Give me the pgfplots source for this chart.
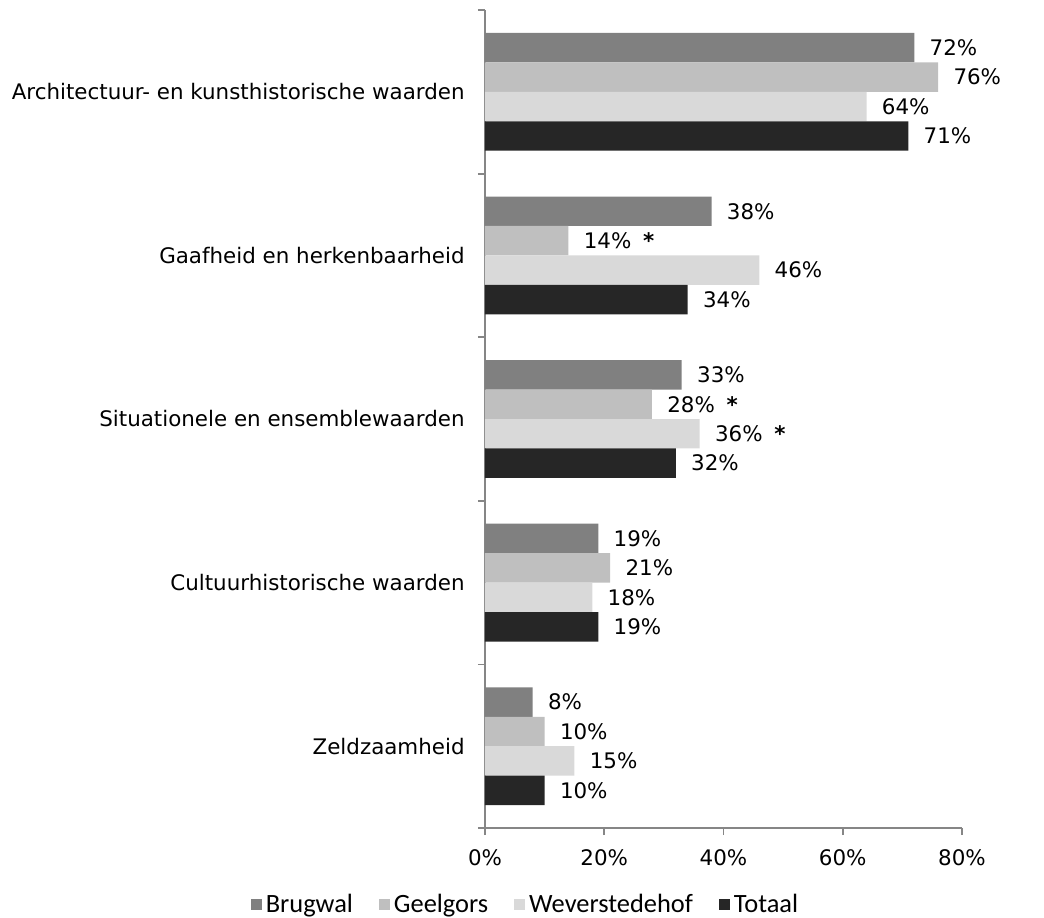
\documentclass[border=0pt]{standalone}
\usepackage{pgfplots}
\pgfplotsset{compat=1.18}
\usepackage{fontspec}
\setmainfont{DejaVu Sans}
\newfontfamily\legfont{Carlito}
\definecolor{cBrug}{HTML}{808080}
\definecolor{cGeel}{HTML}{BFBFBF}
\definecolor{cWever}{HTML}{D9D9D9}
\definecolor{cTot}{HTML}{262626}
\definecolor{cAxis}{HTML}{868686}
\newcommand\sig{\hspace{0.55em}\textbf{*}}
\begin{document}
\begin{tikzpicture}
\begin{axis}[
  name=ax,
  scale only axis,
  width=238.5pt, height=409pt,
  xbar, bar width=0.18,
  y dir=reverse,
  ymin=-0.5, ymax=4.5,
  xmin=0, xmax=80,
  axis x line*=bottom, axis y line*=left,
  axis line style={cAxis, line width=0.9pt},
  tick style={cAxis, line width=0.9pt},
  tick align=outside,
  major tick length=3.5pt,
  xtick={0,20,40,60,80},
  xticklabel={\pgfmathprintnumber{\tick}\%},
  /pgf/number format/assume math mode=true,
  x tick label style={font=\fontsize{10.7}{12}\selectfont, yshift=-4pt},
  ytick={-0.5,0.5,1.5,2.5,3.5,4.5},
  yticklabels={},
  extra y ticks={0,1,2,3,4},
  extra y tick labels={Architectuur- en kunsthistorische waarden,Gaafheid en herkenbaarheid,Situationele en ensemblewaarden,Cultuurhistorische waarden,Zeldzaamheid},
  extra y tick style={major tick length=0pt, tick style={draw=none},
     yticklabel style={font=\fontsize{10.7}{12}\selectfont, anchor=east, inner sep=0pt, xshift=-10pt}},
  point meta=explicit symbolic,
  nodes near coords={\pgfplotspointmeta},
  nodes near coords style={font=\fontsize{10.7}{12}\selectfont, anchor=west, inner sep=0pt, xshift=7.5pt, black},
  legend columns=4,
  legend style={draw=none, fill=none, at={(axis description cs:0.087,-0.094)}, anchor=center,
     font=\legfont\fontsize{13.2}{14}\selectfont, /tikz/every even column/.append style={column sep=11pt}},
  legend image code/.code={\fill[#1] (0pt,-2.75pt) rectangle (5.5pt,2.75pt);},
  clip=false,
]
\addplot[fill=cBrug, draw=none, bar shift=-0.27] coordinates {(72,0) [72\%] (38,1) [38\%] (33,2) [33\%] (19,3) [19\%] (8,4) [8\%]};
\addplot[fill=cGeel, draw=none, bar shift=-0.09] coordinates {(76,0) [76\%] (14,1) [14\%\sig] (28,2) [28\%\sig] (21,3) [21\%] (10,4) [10\%]};
\addplot[fill=cWever, draw=none, bar shift=0.09] coordinates {(64,0) [64\%] (46,1) [46\%] (36,2) [36\%\sig] (18,3) [18\%] (15,4) [15\%]};
\addplot[fill=cTot, draw=none, bar shift=0.27] coordinates {(71,0) [71\%] (34,1) [34\%] (32,2) [32\%] (19,3) [19\%] (10,4) [10\%]};
\legend{Brugwal,Geelgors,Weverstedehof,Totaal}
\end{axis}
\pgfresetboundingbox
\path[use as bounding box] (ax.south west) ++(-242.5pt,-44.5pt) rectangle ++(522pt,458.5pt);
\end{tikzpicture}
\end{document}
